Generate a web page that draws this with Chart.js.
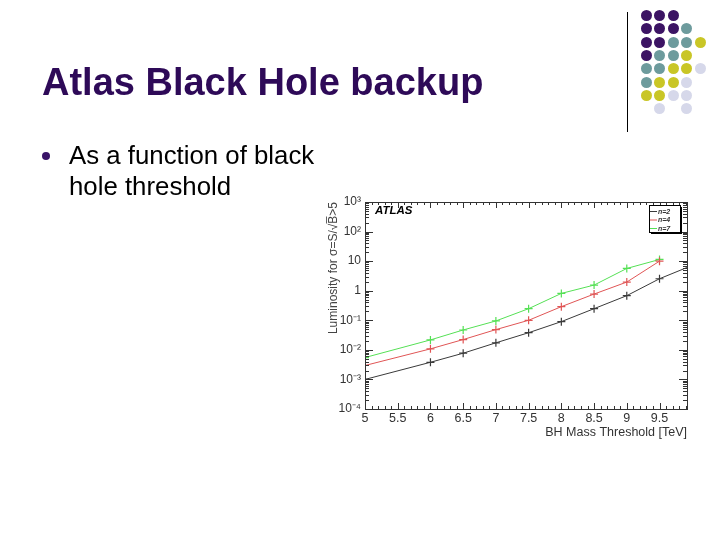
<!DOCTYPE html>
<html>
<head>
<meta charset="utf-8">
<script src="https://cdn.jsdelivr.net/npm/chart.js@4.4.1/dist/chart.umd.min.js"></script>
<style>
  html, body { margin: 0; padding: 0; background: #fff; }
  #slide { position: relative; width: 720px; height: 540px; overflow: hidden; font-family: "Liberation Sans", Arial, sans-serif; }
  #chart { position: absolute; left: 0; top: 0; }
  .title { position: absolute; left: 42px; top: 61px; font-size: 38px; font-weight: bold; color: #2e0a58; white-space: nowrap; }
  .bullet { position: absolute; left: 42px; top: 152px; width: 8px; height: 8px; border-radius: 50%; background: #3a1468; }
  .text { position: absolute; left: 69px; top: 140px; font-size: 25.8px; line-height: 31px; color: #000; }
  .vline { position: absolute; left: 627px; top: 12px; width: 1px; height: 120px; background: #000; }
  .dot { position: absolute; width: 11px; height: 11px; border-radius: 50%; }
</style>
</head>
<body>
<div id="slide">
  <canvas id="chart" width="720" height="540"></canvas>
  <div class="title">Atlas Black Hole backup</div>
  <div class="bullet"></div>
  <div class="text">As a function of black<br>hole threshold</div>
  <div class="vline"></div>
</div>
<script>
// slide decoration: dot pattern (P purple, T teal, Y yellow, L lavender)
const dotRows = ['PPP', 'PPPT', 'PPTTY', 'PTTY', 'TTYYL', 'TYYL', 'YYLL', '.L.L'];
const dotColors = { P: '#3c1464', T: '#6d9b9d', Y: '#c9c626', L: '#d6d8ea' };

// chart data
const massesN2 = [5, 6, 6.5, 7, 7.5, 8, 8.5, 9, 9.5, 10];
const lumN2 = [1.0e-3, 3.8e-3, 7.7e-3, 0.0173, 0.038, 0.09, 0.247, 0.68, 2.54, 7.2];
const masses = [5, 6, 6.5, 7, 7.5, 8, 8.5, 9, 9.5];
const lumN4 = [2.96e-3, 0.0108, 0.0223, 0.0484, 0.1, 0.289, 0.77, 1.96, 10];
const lumN7 = [5.5e-3, 0.0217, 0.047, 0.095, 0.247, 0.81, 1.55, 5.66, 11.4];
const xTicks = [5, 5.5, 6, 6.5, 7, 7.5, 8, 8.5, 9, 9.5];
const yTicks = [1e-4, 1e-3, 1e-2, 1e-1, 1, 10, 100, 1000];
const yTickLabels = ['10⁻⁴', '10⁻³', '10⁻²', '10⁻¹', '1', '10', '10²', '10³'];
const seriesNames = ['n=2', 'n=4', 'n=7'];
const seriesColors = ['#3a3a3a', '#e05555', '#55e055'];

const slide = document.getElementById('slide');
dotRows.forEach((row, r) => {
    [...row].forEach((c, i) => {
        if (c === '.') return;
        const d = document.createElement('div');
        d.className = 'dot';
        d.style.left = (641 + i * 13.4) + 'px';
        d.style.top = (10 + r * 13.3) + 'px';
        d.style.background = dotColors[c];
        slide.appendChild(d);
    });
});

const toPts = (xs, ys) => xs.map((x, i) => ({ x, y: ys[i] }));
const FONT = '"Liberation Sans", Arial, sans-serif';

// frame, inward ticks, ATLAS label and legend box, ROOT style
const rootFrame = {
    id: 'rootFrame',
    afterDraw(chart) {
        const { ctx, chartArea: a, scales: { x, y } } = chart;
        ctx.save();
        ctx.strokeStyle = '#333';
        ctx.lineWidth = 1;
        ctx.strokeRect(a.left + 0.5, a.top + 0.5, a.right - a.left, a.bottom - a.top);
        ctx.beginPath();
        // x ticks every 0.1
        for (let k = 50; k <= 99; k++) {
            const px = Math.round(x.getPixelForValue(k / 10)) + 0.5;
            const len = k % 5 === 0 ? 6 : 3;
            ctx.moveTo(px, a.bottom); ctx.lineTo(px, a.bottom - len);
            ctx.moveTo(px, a.top); ctx.lineTo(px, a.top + len);
        }
        // y ticks per decade
        yTicks.forEach((dec, di) => {
            for (let m = 1; m <= 9; m++) {
                if (m > 1 && di === yTicks.length - 1) break;
                const py = Math.round(y.getPixelForValue(dec * m)) + 0.5;
                const len = m === 1 ? 8 : 4;
                ctx.moveTo(a.left, py); ctx.lineTo(a.left + len, py);
                ctx.moveTo(a.right, py); ctx.lineTo(a.right - len, py);
            }
        });
        ctx.stroke();

        ctx.fillStyle = '#000';
        ctx.font = 'italic bold 11.5px ' + FONT;
        ctx.textBaseline = 'alphabetic';
        ctx.fillText('ATLAS', a.left + 10, a.top + 12);

        // legend box with shadow
        const bx = 649, by = 205, bw = 31, bh = 27;
        ctx.fillStyle = '#000';
        ctx.fillRect(bx + 2, by + 2, bw, bh);
        ctx.fillStyle = '#fff';
        ctx.fillRect(bx, by, bw, bh);
        ctx.strokeStyle = '#000';
        ctx.strokeRect(bx + 0.5, by + 0.5, bw, bh);
        ctx.font = 'italic bold 7px ' + FONT;
        seriesNames.forEach((name, i) => {
            const ly = by + 6 + i * 8.5;
            ctx.strokeStyle = seriesColors[i];
            ctx.beginPath();
            ctx.moveTo(bx + 1, ly + 0.5); ctx.lineTo(bx + 8, ly + 0.5);
            ctx.stroke();
            ctx.fillStyle = '#333';
            ctx.fillText(name, bx + 9, ly + 2.5);
        });
        ctx.restore();
    }
};

const mk = (label, pts, color) => ({
    label, data: pts, borderColor: color, backgroundColor: color,
    borderWidth: 1, pointStyle: 'cross', pointRadius: 4, pointBorderWidth: 1.2,
    pointHoverRadius: 4, tension: 0
});

new Chart(document.getElementById('chart'), {
    type: 'line',
    data: {
        datasets: [
            mk(seriesNames[0], toPts(massesN2, lumN2), seriesColors[0]),
            mk(seriesNames[1], toPts(masses, lumN4), seriesColors[1]),
            mk(seriesNames[2], toPts(masses, lumN7), seriesColors[2])
        ]
    },
    options: {
        responsive: false,
        animation: false,
        layout: { padding: { left: 320, right: 33, top: 202, bottom: 100 } },
        plugins: { legend: { display: false }, tooltip: { enabled: false } },
        scales: {
            x: {
                type: 'linear', min: 5, max: 9.92,
                afterBuildTicks: s => { s.ticks = xTicks.map(v => ({ value: v })); },
                afterFit: s => { s.height = 31; },
                grid: { display: false, drawTicks: false },
                border: { display: false },
                ticks: { color: '#333', padding: 2, maxRotation: 0, autoSkip: false,
                         font: { family: FONT, size: 12.5 },
                         callback: v => String(v) },
                title: { display: true, text: 'BH Mass Threshold [TeV]', align: 'end', color: '#333',
                         padding: { top: 0, bottom: 0 },
                         font: { family: FONT, size: 12.5 } }
            },
            y: {
                type: 'logarithmic', min: 1e-4, max: 1e3,
                afterBuildTicks: s => { s.ticks = yTicks.map(v => ({ value: v })); },
                afterFit: s => { s.width = 45; },
                grid: { display: false, drawTicks: false },
                border: { display: false },
                ticks: { color: '#333', padding: 4, autoSkip: false,
                         font: { family: FONT, size: 12 },
                         callback: v => yTickLabels[yTicks.indexOf(v)] },
                title: { display: true, text: 'Luminosity for σ=S/√B̅>5', align: 'end', color: '#444',
                         padding: { top: 6, bottom: 0 },
                         font: { family: FONT, size: 12 } }
            }
        }
    },
    plugins: [rootFrame]
});
</script>
</body>
</html>
